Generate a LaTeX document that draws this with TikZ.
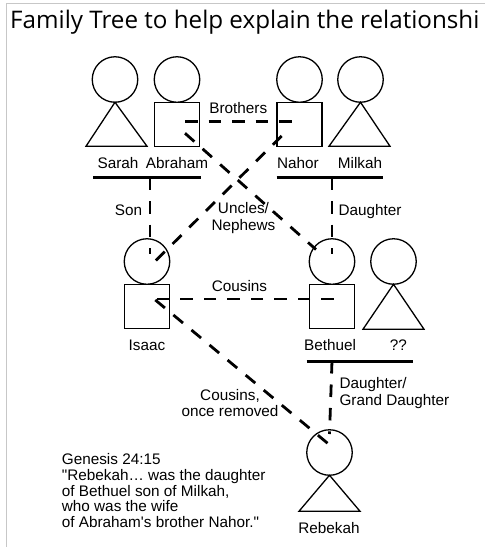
\documentclass[tikz,border=0pt]{standalone}
\usepackage{fontspec}
\setmainfont{Liberation Sans}[Ligatures=TeXOff]
\newfontfamily\titlefont{Open Sans}
\usetikzlibrary{calc,positioning}
\tikzset{
	head/.style={draw, circle, line width=1.3pt, minimum size=45.5pt, inner sep=0pt, outer sep=0pt},
	malebody/.style={draw, rectangle, line width=1.3pt, minimum width=45pt, minimum height=44pt, inner sep=0pt, outer sep=0pt},
	femalebody/.style={line width=1.3pt},
	bar/.style={line width=3pt},
	kin/.style={line width=2.8pt, dash pattern=on 12.5pt off 11pt},
	tag/.style={font=\fontsize{15.3}{15.7}\selectfont, inner sep=0pt},
}

\begin{document}
\begin{tikzpicture}[x=1pt, y=-1pt]
		%%%%% START %%%%%
		\useasboundingbox (0, 0) rectangle (485, 547);
		\draw[color=black!22, line width=1pt] (485, 3) -- (6, 3) -- (6, 547);
		\node[anchor=base west, inner sep=0pt, font=\titlefont\fontsize{24.2}{24.2}\selectfont] (title) at (10, 28) {Family Tree to help explain the relationshi};
		
		% grandparents
		\node[head] (sarahHead) at (115, 79.5) {};
		\draw[femalebody] (sarahHead.south) -- ++(-29, 44) -- ++(61, 0) -- cycle;
		\node[head] (abrahamHead) at (177, 79.5) {};
		\node[malebody, below=0pt of abrahamHead] (abrahamBody) {};
		\node[head] (nahorHead) at (299.5, 79.5) {};
		\node[malebody, below=0pt of nahorHead] (nahorBody) {};
		\node[head] (milkahHead) at (360.5, 79.5) {};
		\draw[femalebody] (milkahHead.south) -- ++(-31.5, 44) -- ++(61, 0) -- cycle;
		
		\node[tag, anchor=base] (sarahName) at (118, 168.3) {Sarah};
		\node[tag, anchor=base] (abrahamName) at (177, 168.3) {Abraham};
		\node[tag, anchor=base] (nahorName) at (298, 168.3) {Nahor};
		\node[tag, anchor=base] (milkahName) at (360, 168.3) {Milkah};
		
		\draw[bar] (93.3, 177.7) -- (200.7, 177.7);
		\coordinate (abrahamSarah) at (150, 177.7);
		\draw[bar] (276.7, 177.7) -- (383.3, 177.7);
		\coordinate (nahorMilkah) at (332, 177.7);
		
		% children
		\node[head] (isaacHead) at (147, 261.5) {};
		\node[malebody, below=0pt of isaacHead] (isaacBody) {};
		\node[head] (bethuelHead) at (332, 261.5) {};
		\node[malebody, below=0pt of bethuelHead] (bethuelBody) {};
		\node[head] (unknownHead) at (393.5, 261.5) {};
		\draw[femalebody] (unknownHead.south) -- ++(-30.5, 45) -- ++(61, 0) -- cycle;
		
		\node[tag, anchor=base] (isaacName) at (147, 350.7) {Isaac};
		\node[tag, anchor=base] (bethuelName) at (330, 350.7) {Bethuel};
		\node[tag, anchor=base] (unknownName) at (398.3, 350.7) {??};
		
		\draw[bar] (306.7, 361) -- (413.3, 361);
		\coordinate (bethuelUnknown) at (332, 361);
		
		% grandchild
		\node[head] (rebekahHead) at (329.5, 452.5) {};
		\draw[femalebody] (rebekahHead.south) -- ++(-30.5, 36) -- ++(61, 0) -- cycle;
		\node[tag, anchor=base] (rebekahName) at (329, 533.3) {Rebekah};
		
		% kinship lines
		\draw[kin] (abrahamSarah) -- ([shift={(3, -7.5)}]isaacHead.center);
		\draw[kin] (nahorMilkah) -- ([shift={(0, -7.5)}]bethuelHead.center);
		\draw[kin] (bethuelUnknown) -- ([shift={(0, -18.5)}]rebekahHead.center);
		\draw[kin] ([shift={(8, -2.5)}]abrahamBody.center) -| ([shift={(-7.8, 4)}]nahorBody.center);
		\draw[kin] ([shift={(8, 9)}]abrahamBody.center) -- ([shift={(-16, -12)}]bethuelHead.center);
		\draw[kin] ([shift={(-17.8, 11.7)}]nahorBody.center) -- ([shift={(8.3, -0.5)}]isaacHead.center);
		\draw[kin] ([shift={(1.6, -7.3)}]bethuelBody.center) -- ([shift={(7.6, -7.3)}]isaacBody.center);
		\draw[kin] ([shift={(8.3, -6.3)}]isaacBody.center) -- ([shift={(-1, -8.5)}]rebekahHead.center);
		
		\node[tag, anchor=base] (brothersTag) at (238.3, 113.3) {Brothers};
		\node[tag, anchor=base east] (sonTag) at (142.3, 215) {Son};
		\node[tag, anchor=base west] (daughterTag) at (338.3, 215) {Daughter};
		\node[tag, align=center, font=\fontsize{15.3}{16.7}\selectfont] (unclesTag) at (243.5, 218) {Uncles/\\Nephews};
		\node[tag, anchor=base] (cousinsTag) at (239.5, 291.7) {Cousins};
		\node[tag, align=left, anchor=west, font=\fontsize{15.3}{17.7}\selectfont] (grandTag) at (339.3, 393) {Daughter/\\Grand Daughter};
		\node[tag, align=center] (removedTag) at (230, 403) {Cousins,\\once removed};
		\node[tag, align=left, anchor=west] (genesisTag) at (61.7, 490.7) {Genesis 24:15\\"Rebekah… was the daughter\\of Bethuel son of Milkah,\\who was the wife\\of Abraham's brother Nahor."};
		%%%%% END %%%%%
\end{tikzpicture}
\end{document}
